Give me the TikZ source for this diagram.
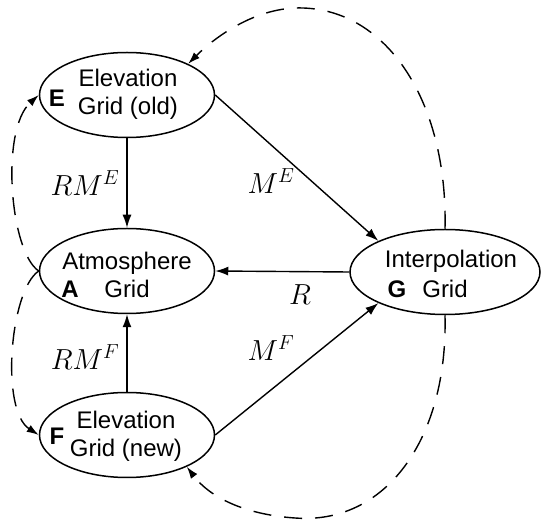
\documentclass[tikz,border=0pt]{standalone}
\usepackage{fix-cm}
\usepackage{fontspec}
\setmainfont{Liberation Sans}
\usetikzlibrary{shapes.geometric,arrows.meta}
\begin{document}
\begin{tikzpicture}[x=1pt,y=-1pt,
  grid/.style={draw,ellipse,line width=1.5pt,minimum width=175pt,minimum height=85pt,inner sep=0pt},
  gtext/.style={align=center,font=\fontsize{24}{28}\selectfont,inner sep=0pt},
  glabel/.style={font=\fontsize{24}{28}\selectfont\bfseries,inner sep=0pt},
  mlabel/.style={font=\fontsize{29}{32}\selectfont,inner sep=0pt},
  conn/.style={line width=1.4pt,-{Latex[length=13pt,width=9pt]}},
  dconn/.style={line width=1.4pt,dash pattern=on 18pt off 13pt,-{Latex[length=12pt,width=8pt]}}
]
\useasboundingbox (0,0) rectangle (542,521);
\node[grid] (E) at (127,95) {};
\node[grid] (A) at (127,271) {};
\node[grid] (F) at (127,435) {};
\node[grid,minimum width=190pt] (G) at (445,272) {};
\node[gtext] (Et) at (128,94) {Elevation\\Grid (old)};
\node[gtext] (At) at (127,275) {Atmosphere\\Grid};
\node[gtext] (Ft) at (126,436) {Elevation\\Grid (new)};
\node[gtext] (Gt1) at (451,261) {Interpolation};
\node[gtext] (Gt2) at (445,289) {Grid};
\node[glabel] (El) at (57,98) {E};
\node[glabel] (Al) at (70,289) {A};
\node[glabel] (Fl) at (57,436) {F};
\node[glabel] (Gl) at (397,289) {G};
\draw[conn] (E.south) -- (A.north);
\draw[conn] (F.north) -- (A.south);
\draw[conn] (G.west) -- (A.east);
\draw[conn] (E.east) -- (G.155);
\draw[conn] (F.east) -- (G.205);
\node[mlabel] (rme) at (85,183) {$RM^E$};
\node[mlabel] (rmf) at (85,357) {$RM^F$};
\node[mlabel] (me) at (271,181) {$M^E$};
\node[mlabel] (mf) at (271,348) {$M^F$};
\node[mlabel] (r) at (300,295) {$R$};
\draw[dconn] (G.north) .. controls (448,100) and (385,5) .. (295,8)
  .. controls (250,10) and (212,40) .. (E.27);
\draw[dconn] (G.south) .. controls (448,440) and (385,525) .. (295,518)
  .. controls (250,515) and (212,500) .. (F.-28);
\draw[dconn] (A.west) .. controls (10,252) and (0,130) .. (E.west);
\draw[dconn] (A.west) .. controls (10,290) and (0,410) .. (F.west);
\end{tikzpicture}
\end{document}
